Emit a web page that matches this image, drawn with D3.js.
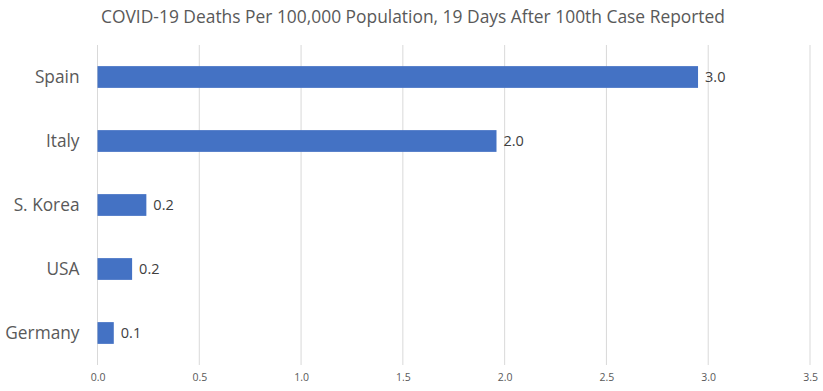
<!DOCTYPE html>
<html>
<head>
<meta charset="utf-8">
<script src="https://cdn.jsdelivr.net/npm/d3@7"></script>
<style>
  body { margin: 0; background: #fff; }
  text { font-family: "Open Sans", sans-serif; fill: #595959; }
</style>
</head>
<body>
<div id="plot"></div>
<script>
// Chart data
const countries = ["Spain", "Italy", "S. Korea", "USA", "Germany"];
const deaths = [2.95, 1.96, 0.24, 0.17, 0.08];
const xTicks = [0, 0.5, 1, 1.5, 2, 2.5, 3, 3.5];
const title = "COVID-19 Deaths Per 100,000 Population, 19 Days After 100th Case Reported";

const W = 823, H = 391;
const margin = {top: 45, right: 13, bottom: 26, left: 97.5};
const width = W - margin.left - margin.right;
const height = H - margin.top - margin.bottom;

const svg = d3.select("#plot")
    .append("svg")
    .attr("width", W)
    .attr("height", H);

const g = svg.append("g")
    .attr("transform", `translate(${margin.left},${margin.top})`);

// Scales
const x = d3.scaleLinear()
    .domain([0, 3.5])
    .range([0, width]);

const y = d3.scaleBand()
    .domain(countries)
    .range([0, height])
    .paddingInner(0.66)
    .paddingOuter(0.33);

// Gridlines
g.selectAll("line.grid")
    .data(xTicks)
    .enter()
    .append("line")
    .attr("class", "grid")
    .attr("x1", d => x(d))
    .attr("x2", d => x(d))
    .attr("y1", 0)
    .attr("y2", height)
    .attr("stroke", "#d9d9d9")
    .attr("stroke-width", 1);

// Bars
g.selectAll("rect.bar")
    .data(countries)
    .enter()
    .append("rect")
    .attr("class", "bar")
    .attr("x", x(0))
    .attr("y", d => y(d))
    .attr("width", (d, i) => x(deaths[i]) - x(0))
    .attr("height", y.bandwidth())
    .attr("fill", "#4472c4");

// Value labels
g.selectAll("text.value")
    .data(countries)
    .enter()
    .append("text")
    .attr("class", "value")
    .attr("x", (d, i) => x(deaths[i]) + 7)
    .attr("y", d => y(d) + y.bandwidth() / 2)
    .attr("dy", "0.35em")
    .style("font-size", "14.5px")
    .style("fill", "#404040")
    .text((d, i) => deaths[i].toFixed(1));

// Category axis labels
g.selectAll("text.cat")
    .data(countries)
    .enter()
    .append("text")
    .attr("class", "cat")
    .attr("x", -18)
    .attr("y", d => y(d) + y.bandwidth() / 2)
    .attr("dy", "0.35em")
    .attr("text-anchor", "end")
    .style("font-size", "17.3px")
    .text(d => d);

// X axis tick labels
const xAxis = g.append("g")
    .attr("transform", `translate(0,${height})`)
    .call(d3.axisBottom(x)
        .tickValues(xTicks)
        .tickFormat(d3.format(".1f"))
        .tickSize(0)
        .tickPadding(9));
xAxis.select(".domain").remove();
xAxis.selectAll("text")
    .style("font-size", "10.5px")
    .style("font-family", "'Open Sans', sans-serif")
    .attr("fill", "#595959");

// Title
svg.append("text")
    .attr("x", 413)
    .attr("y", 23)
    .attr("text-anchor", "middle")
    .style("font-size", "17.4px")
    .text(title);
</script>
</body>
</html>
